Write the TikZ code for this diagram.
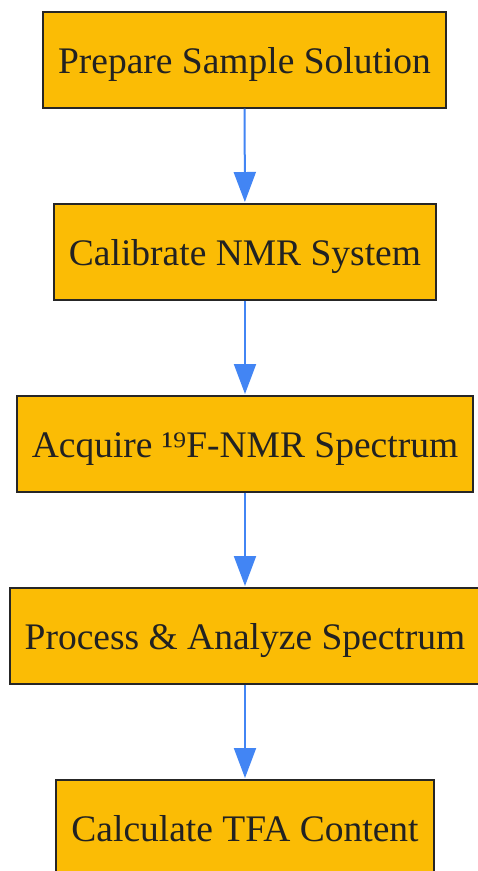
\documentclass[tikz,border=0pt]{standalone}
\usepackage{fontspec}
\setmainfont{Liberation Serif}
\usetikzlibrary{arrows.meta}
\definecolor{boxfill}{HTML}{FBBC05}
\definecolor{boxline}{HTML}{262626}
\definecolor{arrowblue}{HTML}{4285F4}
\definecolor{txt}{HTML}{222222}
\tikzset{
  stepbox/.style={draw=boxline, line width=2pt, fill=boxfill, text=txt,
    minimum height=96pt, inner xsep=15pt, inner ysep=0pt,
    text height=30pt, text depth=2.4pt,
    font=\fontsize{37.5}{44}\selectfont},
  flow/.style={draw=arrowblue, line width=2pt,
    -{Triangle[length=30pt,width=22pt]}, shorten >=0.5pt}
}
\begin{document}
\begin{tikzpicture}[x=1pt,y=-1pt]
\useasboundingbox[clip] (0,0) rectangle (478,871);
\fill[white] (0,0) rectangle (478,871);
\node[stepbox] (a) at (244.5,59.5) {Prepare Sample Solution};
\node[stepbox] (b) at (245,251.5) {Calibrate NMR System};
\node[stepbox] (c) at (245,443.5) {Acquire ¹⁹F-NMR Spectrum};
\node[stepbox] (d) at (245,635.5) {Process \& Analyze Spectrum};
\node[stepbox] (e) at (245,827.5) {Calculate TFA Content};
\draw[flow] (a) -- (b);
\draw[flow] (b) -- (c);
\draw[flow] (c) -- (d);
\draw[flow] (d) -- (e);
\end{tikzpicture}
\end{document}
